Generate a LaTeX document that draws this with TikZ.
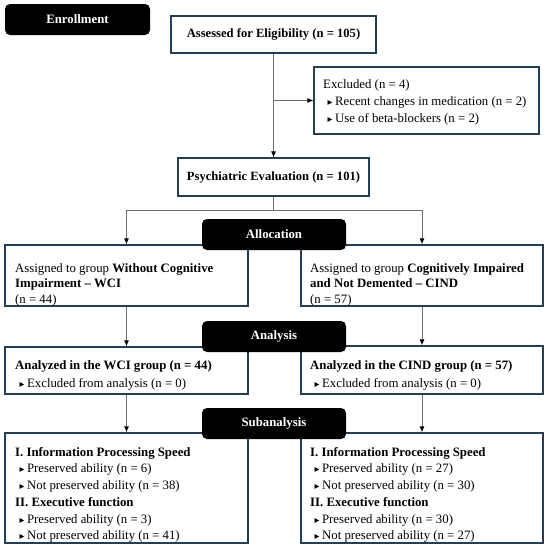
\documentclass[tikz,border=0pt]{standalone}
\usepackage{fontspec}
\setmainfont{Liberation Serif}
\newfontfamily\dejavu{DejaVu Sans}
\usetikzlibrary{arrows.meta}
\definecolor{boxline}{RGB}{38,62,82}
\definecolor{conn}{RGB}{110,110,110}
\newcommand{\bul}{\hspace*{4.5pt}{\dejavu\fontsize{9.8}{9}\selectfont ▸}\hspace{2.5pt}}
\begin{document}
\begin{tikzpicture}[x=1pt,y=-1pt,
  font=\fontsize{12.8}{15.8}\selectfont,
  wbox/.style={draw=boxline, line width=1.1pt, fill=white, inner sep=0pt},
  txt/.style={anchor=north west, align=left, inner sep=0pt},
  bbox/.style={fill=black, rounded corners=5pt, text=white, font=\fontsize{12.8}{13}\selectfont\bfseries, minimum width=144pt, minimum height=31pt, inner sep=0pt},
  conn/.style={draw=conn, line width=1pt, -{Latex[length=6pt,width=5pt,color=black]}}]
\useasboundingbox (0,0) rectangle (550,549);
\fill[white] (0,0) rectangle (550,549);
% white boxes
\node[wbox, minimum width=205pt, minimum height=37pt, font=\fontsize{12.6}{13}\selectfont\bfseries] (assess) at (273.5,34.5) {Assessed for Eligibility (n = 105)};
\node[wbox, minimum width=191pt, minimum height=38pt, font=\fontsize{12.6}{13}\selectfont\bfseries] (psych) at (273.5,177) {Psychiatric Evaluation (n = 101)};
\node[wbox, minimum width=225pt, minimum height=67pt] (excl) at (426.5,100.5) {};
\node[wbox, minimum width=243pt, minimum height=61pt] (wci) at (126.5,275.5) {};
\node[wbox, minimum width=242pt, minimum height=61pt] (cind) at (422,275.5) {};
\node[wbox, minimum width=243pt, minimum height=47pt] (awci) at (126.5,370.5) {};
\node[wbox, minimum width=242pt, minimum height=48pt] (acind) at (422,370) {};
\node[wbox, minimum width=243pt, minimum height=110pt] (swci) at (126.5,488) {};
\node[wbox, minimum width=242pt, minimum height=110pt] (scind) at (422,488) {};
% texts
\node[txt, font=\fontsize{12.8}{16.8}\selectfont] (exclt) at (323,79.5) {Excluded (n = 4)\\\bul Recent changes in medication (n = 2)\\\bul Use of beta-blockers (n = 2)};
\node[txt] (wcit) at (15,263) {Assigned to group \textbf{Without Cognitive}\\\textbf{Impairment -- WCI}\\(n = 44)};
\node[txt] (cindt) at (310,263) {Assigned to group \textbf{Cognitively Impaired}\\\textbf{and Not Demented -- CIND}\\(n = 57)};
\node[txt, font=\fontsize{12.8}{17.5}\selectfont] (awcit) at (15,360.5) {\textbf{Analyzed in the WCI group (n = 44)}\\\bul Excluded from analysis (n = 0)};
\node[txt, font=\fontsize{12.8}{17.5}\selectfont] (acindt) at (310,360.5) {\textbf{Analyzed in the CIND group (n = 57)}\\\bul Excluded from analysis (n = 0)};
\node[txt, font=\fontsize{12.8}{16.2}\selectfont] (swcit) at (15,447.5) {\textbf{I. Information Processing Speed}\\\bul Preserved ability (n = 6)\\\bul Not preserved ability (n = 38)\\[1.5pt]\textbf{II. Executive function}\\\bul Preserved ability (n = 3)\\\bul Not preserved ability (n = 41)};
\node[txt, font=\fontsize{12.8}{16.2}\selectfont] (scindt) at (310,447.5) {\textbf{I. Information Processing Speed}\\\bul Preserved ability (n = 27)\\\bul Not preserved ability (n = 30)\\[1.5pt]\textbf{II. Executive function}\\\bul Preserved ability (n = 30)\\\bul Not preserved ability (n = 27)};
% connectors
\coordinate (br) at (assess.south |- excl.west);
\draw[conn] (assess.south) -- (psych.north);
\draw[conn] (br) -- (excl.west);
\coordinate (split) at ([yshift=-14pt]psych.south);
\draw[conn] (psych.south) -- (split) -| (wci.north);
\draw[conn] (split) -| (cind.north);
\draw[conn] (wci.south) -- (awci.north);
\draw[conn] (cind.south) -- (acind.north);
\draw[conn] (awci.south) -- (swci.north);
\draw[conn] (acind.south) -- (scind.north);
% black labels
\node[bbox, minimum width=145pt] (enroll) at (77.5,19.5) {Enrollment};
\node[bbox] (alloc) at (274,234.5) {Allocation};
\node[bbox] (analysis) at (274,336.5) {Analysis};
\node[bbox] (subanal) at (274,423.5) {Subanalysis};
\end{tikzpicture}
\end{document}
